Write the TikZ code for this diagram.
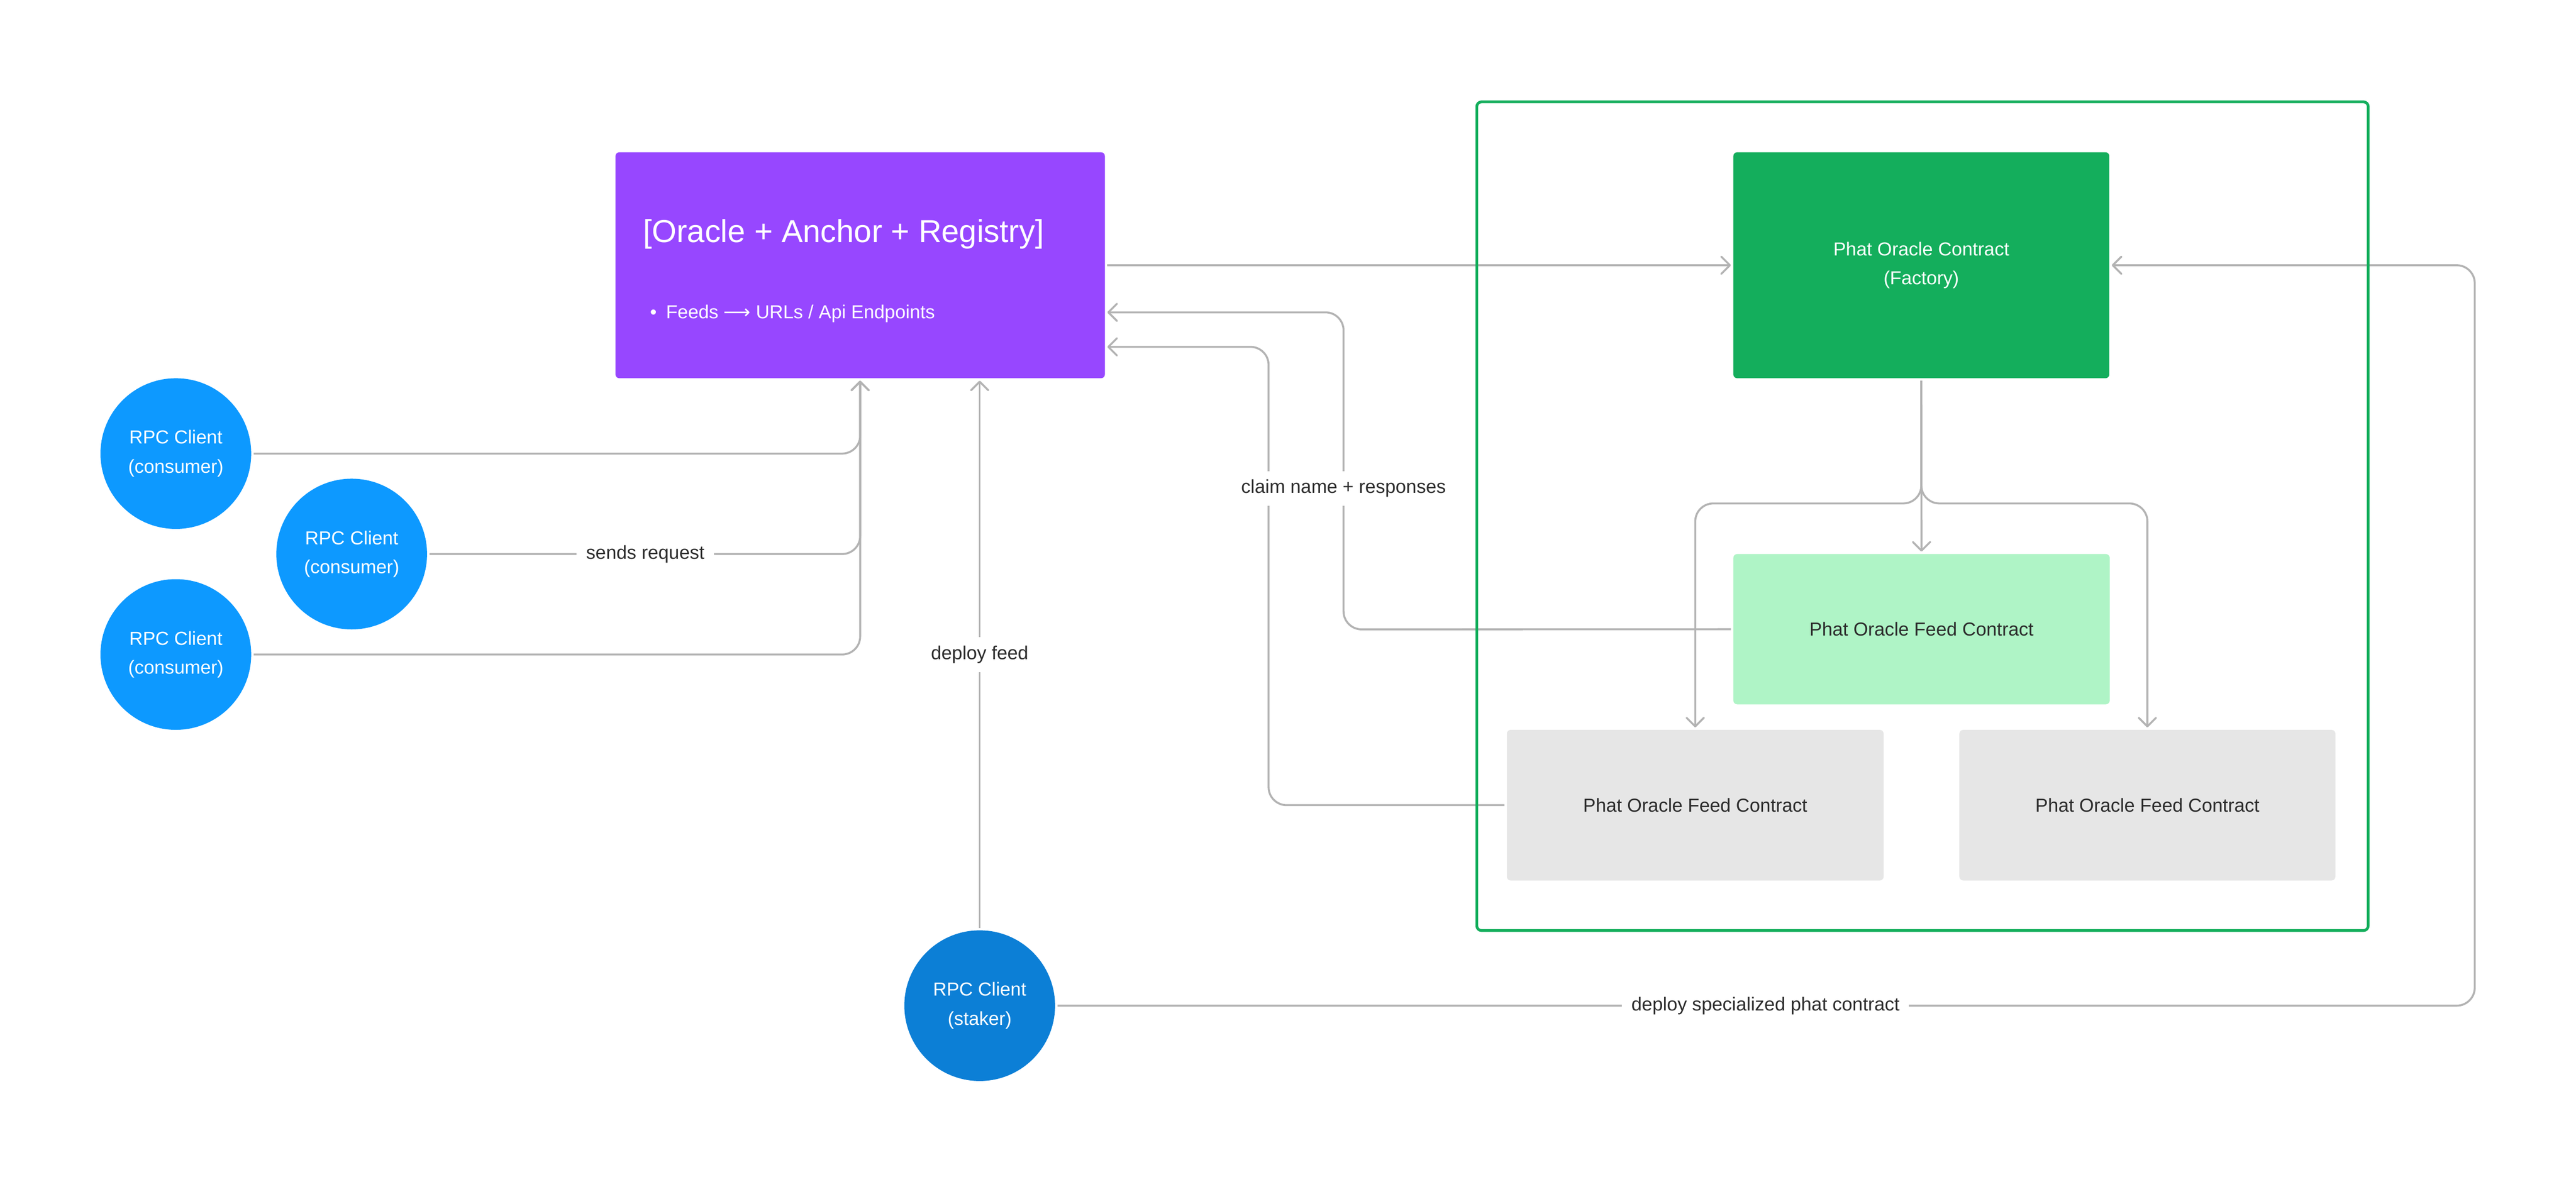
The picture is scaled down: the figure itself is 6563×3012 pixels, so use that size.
\documentclass[tikz,border=0pt]{standalone}
\usepackage{fontspec}
\setmainfont{Liberation Sans}
\newfontfamily\arrowfont{DejaVu Sans}
\usetikzlibrary{arrows.meta}
\definecolor{regpurple}{HTML}{9747FF}
\definecolor{facgreen}{HTML}{14AE5C}
\definecolor{feedgreen}{HTML}{AFF4C6}
\definecolor{feedgrey}{HTML}{E6E6E6}
\definecolor{clientblue}{HTML}{0D99FF}
\definecolor{stakerblue}{HTML}{0C7FD6}
\definecolor{linegrey}{HTML}{B3B3B3}
\definecolor{labeltext}{HTML}{2C2C2C}
\begin{document}
\begin{tikzpicture}[x=1pt,y=-1pt,
  txt/.style={font=\fontsize{48pt}{74pt}\selectfont},
  box/.style={txt, rectangle, rounded corners=10pt, inner sep=0pt, align=center},
  client/.style={txt, circle, minimum size=384pt, inner sep=0pt, text=white, align=center},
  arr/.style={draw=linegrey, line width=5pt, rounded corners=46pt, shorten <=6pt, shorten >=6pt,
    -{Straight Barb[length=22pt,width=44pt,round]}},
  lbl/.style={txt, fill=white, text=labeltext, inner xsep=24pt, inner ysep=22pt}]
\useasboundingbox (0,0) rectangle (6563,3012);

% main boxes
\node[box, fill=regpurple, minimum width=1247pt, minimum height=576pt] (reg) at (2191.5,676) {};
\node[anchor=west, text=white, inner sep=0pt, font=\fontsize{81pt}{96pt}\selectfont] (title) at (1638,597) {[Oracle + Anchor + Registry]};
\node[anchor=west, txt, text=white, inner sep=0pt] (bullet) at (1656,800) {\textbullet\hspace{24pt}Feeds {\arrowfont ⟶} URLs / Api Endpoints};

\node[box, fill=facgreen, text=white, minimum width=958pt, minimum height=576pt] (fac) at (4895,676) {Phat Oracle Contract\\(Factory)};
\node[box, fill=feedgreen, text=labeltext, minimum width=959pt, minimum height=383pt] (feed) at (4895.5,1603.5) {Phat Oracle Feed Contract};
\node[box, fill=feedgrey, text=labeltext, minimum width=960pt, minimum height=384pt] (grey1) at (4319,2052) {Phat Oracle Feed Contract};
\node[box, fill=feedgrey, text=labeltext, minimum width=958pt, minimum height=384pt] (grey2) at (5471,2052) {Phat Oracle Feed Contract};

% clients
\node[client, fill=clientblue] (c1) at (448,1156) {RPC Client\\(consumer)};
\node[client, fill=clientblue] (c2) at (896,1412) {RPC Client\\(consumer)};
\node[client, fill=clientblue] (c3) at (448,1668) {RPC Client\\(consumer)};
\node[client, fill=stakerblue] (st) at (2496,2563) {RPC Client\\(staker)};

% connectors
\draw[arr] (reg.east) -- (fac.west);
\draw[arr] (feed.west) -- (3423,1604) -- (3423,796) -- (reg.east |- 0,796);
\draw[arr] (grey1.west) -- (3232,2052) -- (3232,884) -- (reg.east |- 0,884);
\draw[arr] (fac.south) -- (feed.north);
\draw[arr] (fac.south) -- (4895,1283) -- (4319,1283) -- (grey1.north);
\draw[arr] (fac.south) -- (4895,1283) -- (5471,1283) -- (grey2.north);
\draw[arr] (c1.east) -- (2191.5,1156) -- (reg.south);
\draw[arr] (c2.east) -- (2191.5,1412) -- (reg.south);
\draw[arr] (c3.east) -- (2191.5,1668) -- (reg.south);
\draw[arr] (st.north) -- (st.north |- reg.south);
\draw[arr] (st.east) -- (6305,2563) -- (6305,676) -- (fac.east);

% container frame
\node[draw=facgreen, line width=7pt, rounded corners=12pt, minimum width=2271pt, minimum height=2112pt, inner sep=0pt] (frame) at (4898,1315.5) {};

% connector labels
\node[lbl] (lclaim) at (3423,1245) {claim name + responses};
\node[lbl] (lreq) at (1644,1412) {sends request};
\node[lbl] (lfeed) at (2496,1668) {deploy feed};
\node[lbl] (lspec) at (4498,2563) {deploy specialized phat contract};
\end{tikzpicture}
\end{document}
